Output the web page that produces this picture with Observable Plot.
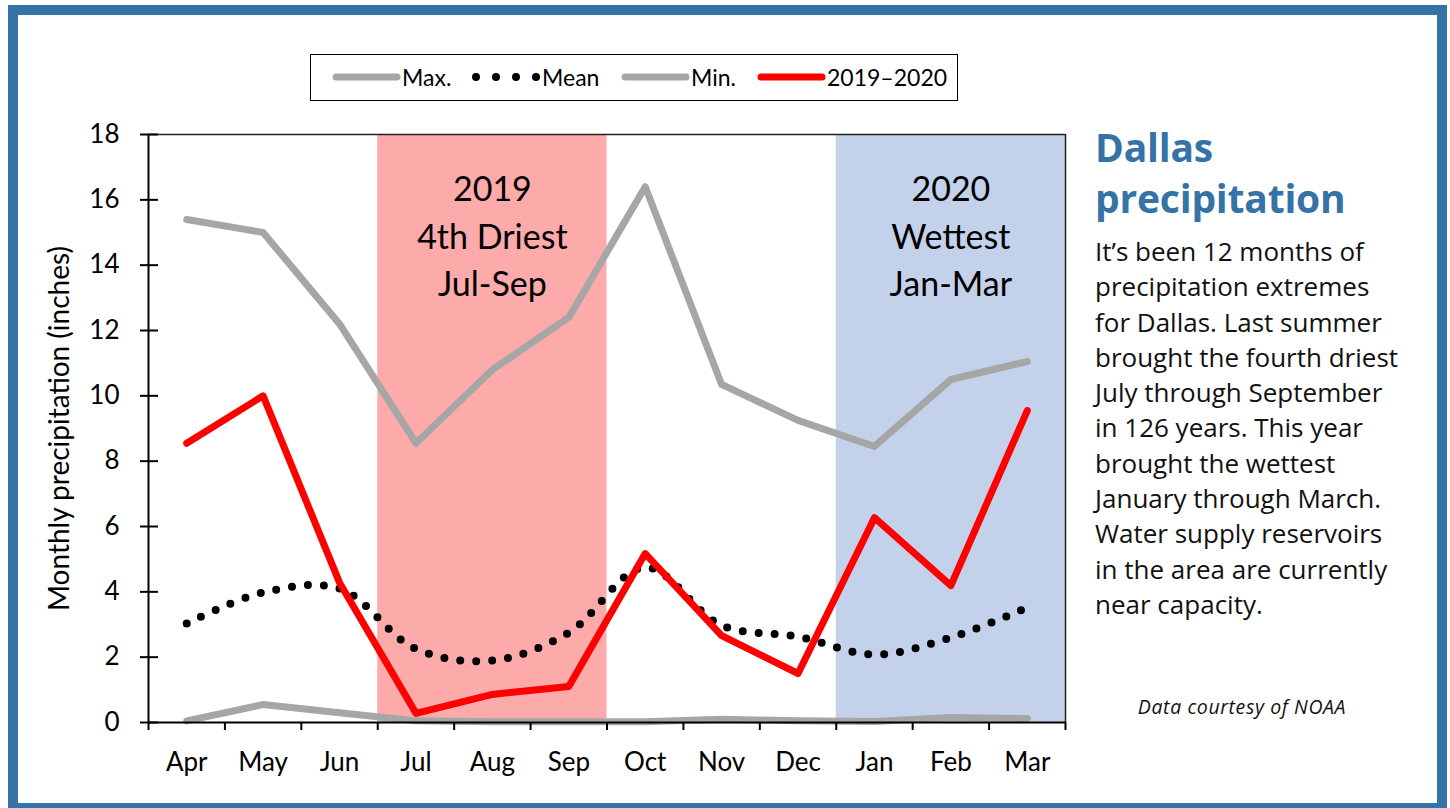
<!DOCTYPE html>
<html><head><meta charset="utf-8">
<script src="https://cdn.jsdelivr.net/npm/d3@7"></script>
<script src="https://cdn.jsdelivr.net/npm/@observablehq/plot@0.6"></script>
<style>
html,body{margin:0;padding:0;background:#fff;}
body{width:1450px;height:808px;overflow:hidden;position:relative;font-family:Lato,sans-serif;}
#frame{position:absolute;left:8px;top:5px;width:1439px;height:808px;border:10px solid #3572a6;box-sizing:border-box;pointer-events:none;z-index:5;}
#chart{position:absolute;left:0;top:0;}
#legend{position:absolute;left:310px;top:54px;width:648px;height:47px;border:1.5px solid #000;box-sizing:border-box;font-family:Lato,sans-serif;font-size:23px;background:#fff;}
.item{position:absolute;top:0;height:44px;display:flex;align-items:center;}
.item svg{margin-left:-4px;}
.item span{margin-left:0px;}
#side{position:absolute;left:1095px;top:0;width:345px;font-family:"Open Sans",sans-serif;}
#title{position:absolute;left:0;top:121px;font-size:39px;font-weight:700;color:#3572a6;line-height:51px;white-space:nowrap;letter-spacing:-0.2px;}
#body{position:absolute;left:0;top:234px;font-size:26px;line-height:35.3px;color:#111;white-space:nowrap;}
#credit{position:absolute;left:1242px;top:693px;transform:translateX(-50%);font-family:"Open Sans",sans-serif;font-style:italic;font-size:19.5px;letter-spacing:0.6px;color:#111;white-space:nowrap;}
</style></head>
<body>
<div id="chart"></div>
<div id="legend"></div>
<div id="side"><div id="title"></div><div id="body"></div></div>
<div id="credit"></div>
<div id="frame"></div>
<script>
// ---- data ----
const months = ["Apr","May","Jun","Jul","Aug","Sep","Oct","Nov","Dec","Jan","Feb","Mar"];
const maxVals    = [15.4, 15.0, 12.2, 8.55, 10.8, 12.4, 16.4, 10.35, 9.25, 8.45, 10.5, 11.05];
const meanVals   = [3.03, 3.98, 4.1, 2.25, 1.9, 2.75, 4.75, 2.97, 2.63, 2.08, 2.6, 3.52];
const minVals    = [0.05, 0.55, 0.3, 0.05, 0.02, 0.02, 0.02, 0.1, 0.05, 0.03, 0.15, 0.12];
const recentVals = [8.55, 10.0, 4.28, 0.28, 0.86, 1.1, 5.17, 2.66, 1.5, 6.27, 4.19, 9.55];
const seriesNames = ["Max.", "Mean", "Min.", "2019–2020"];
const yTicks = [0, 2, 4, 6, 8, 10, 12, 14, 16, 18];
const periodStart = ["Jul", "Jan"];
const periodEnd = ["Sep", "Mar"];
const periodLabels = ["2019\n4th Driest\nJul-Sep", "2020\nWettest\nJan-Mar"];
const yLabel = "Monthly precipitation (inches)";
const titleText = "Dallas\nprecipitation";
const bodyLines = ["It’s been 12 months of","precipitation extremes","for Dallas. Last summer","brought the fourth driest","July through September","in 126 years. This year","brought the wettest","January through March.","Water supply reservoirs","in the area are currently","near capacity."];
const creditText = "Data courtesy of NOAA";

// ---- styles ----
const periodFills = ["#fcaaaa", "#c3d2ea"];
const seriesStyles = [
  {stroke: "#a6a6a6", strokeWidth: 7, dash: null, curve: "linear", legendDash: null},
  {stroke: "#000", strokeWidth: 8, dash: "0 16", curve: "catmull-rom", legendDash: "0 20"},
  {stroke: "#a6a6a6", strokeWidth: 7, dash: null, curve: "linear", legendDash: null},
  {stroke: "#ff0000", strokeWidth: 7, dash: null, curve: "linear", legendDash: null}
];
const seriesVals = [maxVals, meanVals, minVals, recentVals];

const rowsFor = vals => vals.map((v, i) => ({pos: i + 0.5, v}));
const periods = periodStart.map((s, k) => ({
  x1: months.indexOf(s), x2: months.indexOf(periodEnd[k]) + 1,
  label: periodLabels[k], fill: periodFills[k]
}));

const lineMarks = seriesVals.map((vals, k) => Plot.line(rowsFor(vals), {
  x: "pos", y: "v", stroke: seriesStyles[k].stroke, strokeWidth: seriesStyles[k].strokeWidth,
  strokeDasharray: seriesStyles[k].dash, strokeLinecap: "round", strokeLinejoin: "round",
  curve: seriesStyles[k].curve
}));

const chart = Plot.plot({
  width: 1080, height: 808,
  marginLeft: 148, marginRight: 15, marginTop: 134, marginBottom: 86,
  x: {domain: [0, months.length], axis: null},
  y: {domain: [yTicks[0], yTicks[yTicks.length - 1]], axis: null},
  color: {type: "identity"},
  style: {fontFamily: "Lato, sans-serif", fontSize: "26px", color: "#000", background: "transparent"},
  marks: [
    Plot.rect(periods, {x1: "x1", x2: "x2", y1: yTicks[0], y2: yTicks[yTicks.length - 1], fill: "fill"}),
    Plot.ruleY([yTicks[yTicks.length - 1]], {stroke: "#222", strokeWidth: 1.5}),
    Plot.ruleX([months.length], {stroke: "#222", strokeWidth: 1.5}),
    ...lineMarks,
    Plot.text(periods, {x: d => (d.x1 + d.x2) / 2, y: 17.0, text: "label", lineAnchor: "top",
      fontSize: 34, lineHeight: 1.4, fill: "#000"}),
    Plot.ruleX([0], {stroke: "#000", strokeWidth: 2}),
    Plot.ruleY([0], {stroke: "#000", strokeWidth: 2}),
    Plot.axisY({ticks: yTicks, tickSize: 18, insetLeft: 10, tickPadding: 21, strokeWidth: 2,
      label: null, fontSize: 26}),
    Plot.text([yLabel], {frameAnchor: "left", textAnchor: "middle", rotate: -90, dx: -88, fontSize: 28, fill: "#000"}),
    Plot.axisX({ticks: d3.range(months.length + 1), tickSize: 8, strokeWidth: 2, tickFormat: () => "", label: null}),
    Plot.axisX({ticks: months.map((m, i) => i + 0.5), tickSize: 0, tickPadding: 30,
      tickFormat: v => months[Math.floor(v)], label: null, fontSize: 26})
  ]
});
document.getElementById("chart").appendChild(chart);

// legend
const legend = document.getElementById("legend");
const legendLeft = [25, 165, 314, 450];
seriesNames.forEach((name, k) => {
  const st = seriesStyles[k];
  const item = document.createElement("div");
  item.className = "item";
  item.style.left = legendLeft[k] + "px";
  item.innerHTML = `<svg width="70" height="14"><line x1="4" y1="7" x2="65" y2="7" stroke="${st.stroke}" stroke-width="${st.strokeWidth}" stroke-linecap="round" ${st.legendDash ? `stroke-dasharray="${st.legendDash}"` : ""}/></svg><span>${name}</span>`;
  legend.appendChild(item);
});

document.getElementById("title").innerHTML = titleText.split("\n").join("<br>");
document.getElementById("body").innerHTML = bodyLines.join("<br>");
document.getElementById("credit").textContent = creditText;
</script>
</body></html>
